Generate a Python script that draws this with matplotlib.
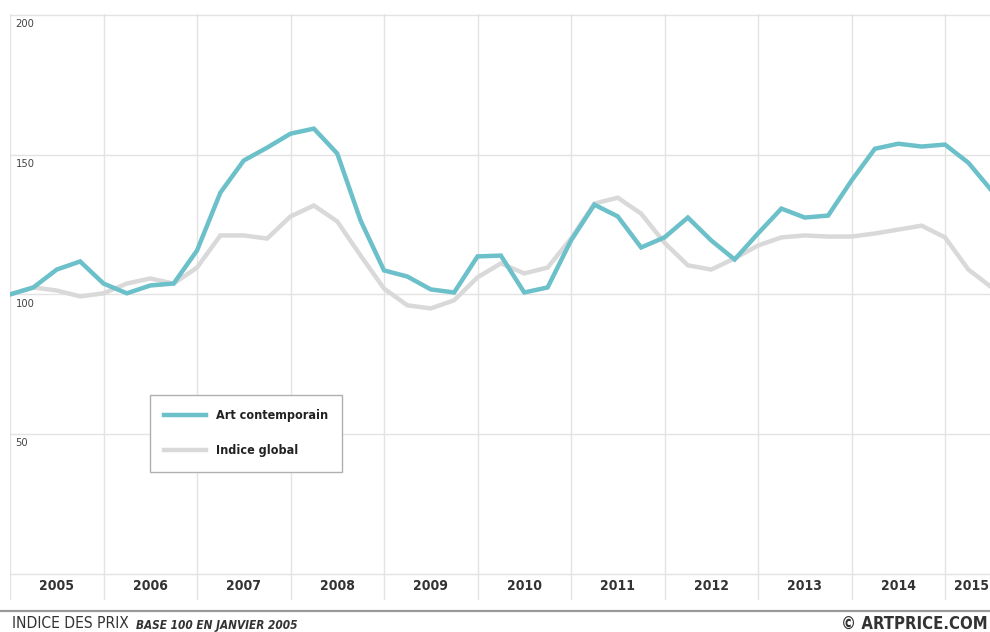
import matplotlib
matplotlib.use("Agg")
import matplotlib.pyplot as plt
from matplotlib import font_manager

# quarterly values, Q1 2005 .. Q3 2015 (base 100 = janvier 2005)
art_contemporain = [100, 102.5, 108.9, 111.8, 103.9, 100.4, 103.2, 103.9,
                    115.7, 136.4, 147.9, 152.5, 157.5, 159.3, 150.4, 126.4,
                    108.6, 106.4, 101.8, 100.7, 113.6, 113.9, 100.7, 102.5,
                    119.3, 132.1, 127.9, 116.8, 120.4, 127.5, 119.3, 112.5,
                    121.8, 130.7, 127.5, 128.2, 140.7, 152.1, 153.9, 152.9,
                    153.6, 147.1, 137.1]
indice_global = [100, 102.5, 101.4, 99.3, 100.4, 103.9, 105.7, 103.9,
                 109.6, 121.1, 121.1, 120.0, 127.9, 131.8, 126.1, 113.9,
                 102.1, 96.1, 95.0, 97.9, 106.1, 111.1, 107.5, 109.6,
                 120.0, 132.5, 134.6, 128.9, 118.5, 110.4, 108.9, 112.9,
                 117.5, 120.4, 121.1, 120.7, 120.7, 121.8, 123.2, 124.6,
                 120.4, 108.9, 102.5]
years = [str(y) for y in range(2005, 2016)]
y_ticks = [0, 50, 100, 150, 200]

names = {f.name for f in font_manager.fontManager.ttflist}
if "Liberation Sans Narrow" in names:
    FONT = dict(family="Liberation Sans Narrow")
else:
    FONT = dict(family="DejaVu Sans", stretch="condensed")

CYAN = "#6bc0c9"
GREY = "#d9d9d9"
GRID = "#e3e3e3"

fig = plt.figure(figsize=(9.9, 6.32), dpi=100)
# axes: x from px 10 to 990, y=200 at px 14, axes bottom at px 600
ax = fig.add_axes([10 / 990, 1 - 600 / 632, 980 / 990, (600 - 14) / 632])
x = list(range(len(art_contemporain)))
ax.plot(x, indice_global, color=GREY, lw=3.2, solid_joinstyle="miter",
        label="Indice global", zorder=3)
ax.plot(x, art_contemporain, color=CYAN, lw=3.2, solid_joinstyle="miter",
        label="Art contemporain", zorder=4)

ax.set_xlim(0, 980 / 23.375)
ax.set_ylim(200 - (600 - 14) / 2.8, 200.3)
for s in ax.spines.values():
    s.set_visible(False)
ax.set_xticks([4 * i for i in range(11)])
ax.set_yticks(y_ticks)
ax.tick_params(length=0, labelbottom=False, labelleft=False)
ax.grid(True, color=GRID, lw=1)

for v in y_ticks[1:]:
    ax.annotate(str(v), xy=(0, v), xytext=(4, -3), textcoords="offset points",
                va="top", ha="left", fontsize=8, color="#444444", **FONT)

for i, yr in enumerate(years):
    if yr == "2015":
        ax.text(0.999, -4.3, yr, ha="right", va="center", fontsize=10,
                fontweight="bold", color="#333333",
                transform=ax.get_yaxis_transform(), **FONT)
    else:
        ax.text(4 * i + 2, -4.3, yr, ha="center", va="center", fontsize=10,
                fontweight="bold", color="#333333", **FONT)

leg = ax.legend(handles=ax.get_lines()[::-1], loc="upper left",
                bbox_to_anchor=(150 / 990, 1 - 395 / 632),
                bbox_transform=fig.transFigure, fancybox=False,
                edgecolor="#b0b0b0", framealpha=1, handlelength=3.3,
                handletextpad=0.8, borderpad=1.15, labelspacing=1.75,
                borderaxespad=0,
                prop=dict(size=9, weight="bold", **FONT))
leg.get_frame().set_linewidth(1)
for t in leg.get_texts():
    t.set_color("#222222")

fig.add_artist(plt.Line2D([0, 1], [1 - 611 / 632] * 2, color="#9a9a9a", lw=1.6,
                          transform=fig.transFigure))
fig.text(12 / 990, 1 - 624 / 632, "INDICE DES PRIX", fontsize=11.2, va="center",
         ha="left", color="#333333", **FONT)
fig.text(136 / 990, 1 - 625 / 632, "BASE 100 EN JANVIER 2005", fontsize=8.5,
         va="center", ha="left", color="#333333", fontweight="bold",
         style="italic", **FONT)
fig.text(988 / 990, 1 - 624 / 632, "\u00a9 ARTPRICE.COM", fontsize=12,
         va="center", ha="right", color="#333333", fontweight="bold", **FONT)

fig.savefig("out.png", dpi=100, facecolor="white")
